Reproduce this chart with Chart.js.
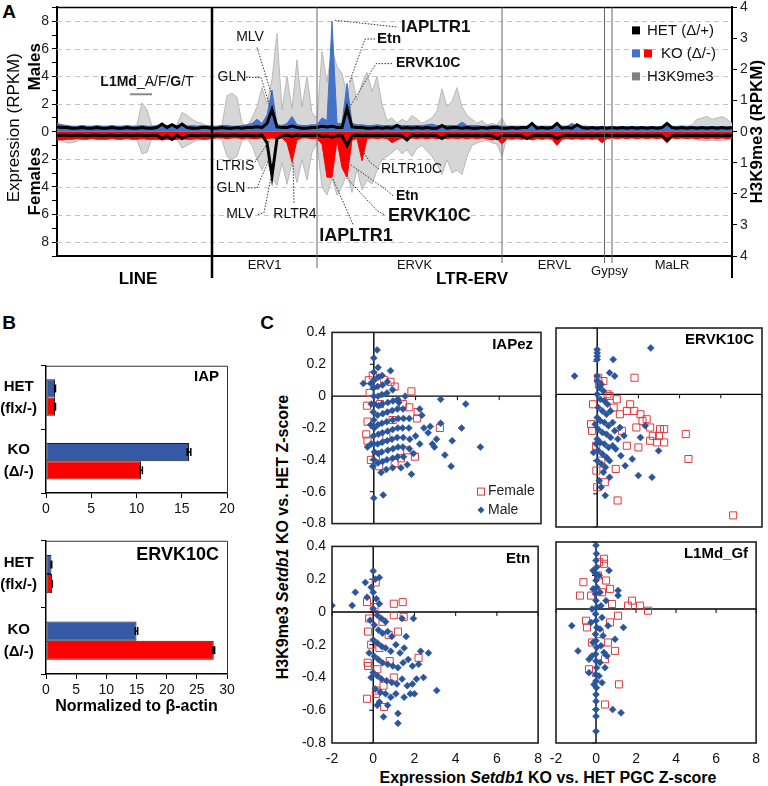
<!DOCTYPE html>
<html><head><meta charset="utf-8">
<script src="https://cdn.jsdelivr.net/npm/chart.js@4.4.1/dist/chart.umd.min.js"></script>
<style>
html,body{margin:0;padding:0;background:#fff;}
body{width:768px;height:786px;position:relative;overflow:hidden;}
canvas{position:absolute;}
.t{position:absolute;white-space:nowrap;color:#000;font-family:Arial,"Liberation Sans",sans-serif;font-weight:bold;transform:translate(-50%,-50%);}
.rot{transform:translate(-50%,-50%) rotate(-90deg);}
</style></head><body>
<div class="t" style="left:9px;top:12px;font-size:19px">A</div>
<div class="t" style="left:9px;top:323px;font-size:19px">B</div>
<div class="t" style="left:267px;top:323px;font-size:19px">C</div>
<div class="t rot" style="left:283px;top:537px;font-size:16px">H3K9me3 <i>Setdb1</i> KO vs. HET Z-score</div>
<div class="t" style="left:548px;top:778px;font-size:16px">Expression <i>Setdb1</i> KO vs. HET PGC Z-score</div>
<script>
// ================= DATA =================
// Panel A: element rank along the repeat classes
const elementIndex = [0,2,4,6,8,10,12,14,16,18,20,22,24,26,28,30,32,34,36,38,40,42,44,46,48,50,52,54,56,58,60,62,64,66,68,70,72,74,76,78,80,82,84,86,88,90,92,94,96,98,100,102,104,106,108,110,112,114,116,118,120,122,124,126,128,130,132,134,136,138,140,142,144,146,148,150,152,154,156,158,160,162,164,166,168,170,172,174,176,178,180,182,184,186,188,190,192,194,196,198,200,202,204,206,208,210,212,214,216,218,220,222,224,226,228,230,232,234,236,238,240,242,244,246,248,250,252,254,256,258,260,262,264,266,268,270];
// Males, KO expression (RPKM)
const koMale = [0.6,0.5,0.45,0.4,0.4,0.45,0.4,0.4,0.45,0.4,
0.4,0.45,0.4,0.4,0.45,0.4,0.4,0.45,0.4,0.4,
0.45,0.5,0.45,0.5,0.45,0.4,0.4,0.45,0.4,0.45,
0.45,0.4,0.4,0.45,0.45,0.4,0.4,0.45,0.5,0.6,
0.9,0.6,1.2,3.0,0.5,0.45,0.6,1.1,0.5,0.45,
0.45,0.5,0.5,1.0,0.8,8.0,0.6,0.6,3.5,0.6,
0.5,0.5,0.45,0.45,0.5,0.45,0.45,0.45,0.5,0.45,
0.45,0.45,0.45,0.45,0.5,0.55,0.45,0.45,0.45,0.45,
0.45,0.7,0.45,0.45,0.45,0.4,0.4,0.45,0.45,0.4,
0.4,0.4,0.4,0.4,0.4,0.6,0.4,0.4,0.4,0.4,
0.4,0.4,0.4,0.6,0.4,0.4,0.4,0.35,0.35,0.35,
0.35,0.35,0.35,0.35,0.35,0.35,0.35,0.35,0.35,0.35,
0.35,0.35,0.45,0.35,0.35,0.35,0.35,0.35,0.35,0.35,
0.35,0.35,0.35,0.35,0.35,0.35];
// Males, HET expression (RPKM)
const hetMale = [0.35,0.3,0.3,0.25,0.25,0.3,0.25,0.25,0.3,0.25,
0.25,0.3,0.25,0.25,0.3,0.25,0.25,0.3,0.25,0.25,
0.3,0.55,0.3,0.5,0.3,0.55,0.3,0.25,0.25,0.3,
0.3,0.25,0.25,0.3,0.25,0.25,0.3,0.25,0.3,0.3,
0.35,0.3,0.6,1.6,0.35,0.3,0.3,0.4,0.3,0.25,
0.25,0.3,0.3,0.4,0.35,0.4,0.3,0.3,1.7,0.35,
0.3,0.3,0.25,0.25,0.3,0.25,0.3,0.25,0.45,0.25,
0.3,0.25,0.3,0.25,0.3,0.25,0.25,0.45,0.25,0.3,
0.3,0.25,0.3,0.25,0.25,0.3,0.25,0.3,0.3,0.25,
0.25,0.3,0.25,0.3,0.3,0.6,0.25,0.3,0.25,0.3,
0.6,0.25,0.3,0.25,0.5,0.3,0.25,0.3,0.25,0.3,
0.25,0.3,0.25,0.3,0.25,0.3,0.25,0.3,0.25,0.3,
0.25,0.3,0.6,0.3,0.25,0.3,0.25,0.3,0.25,0.3,
0.25,0.3,0.25,0.3,0.25,0.3];
// Males, H3K9me3 (RPKM, right axis)
const h3Male = [0.27,0.22,0.18,0.13,0.11,0.11,0.13,0.11,0.13,0.11,
0.11,0.13,0.11,0.13,0.11,0.13,0.22,0.93,0.71,0.18,
0.13,0.11,0.13,0.11,0.22,0.62,0.53,0.4,0.31,0.27,
0.18,0.13,0.13,0.22,1.16,1.24,1.11,0.27,0.18,0.44,
0.8,1.42,0.9,1.69,3.16,0.7,1.78,0.75,2.31,0.8,
1.78,0.6,0.44,2.58,1.6,2.67,2.1,1.87,1.2,1.78,
1.0,1.56,1.91,1.3,1.78,0.89,0.36,0.44,0.27,0.4,
0.31,0.53,0.4,0.27,0.36,0.44,0.67,1.38,0.8,0.98,
1.42,0.8,0.53,0.4,0.27,0.36,0.22,0.27,0.22,0.44,
0.13,0.13,0.16,0.13,0.13,0.16,0.13,0.13,0.16,0.13,
0.13,0.16,0.13,0.13,0.16,0.13,0.13,0.16,0.13,0.13,
0.13,0.13,0.11,0.13,0.11,0.13,0.11,0.13,0.11,0.13,
0.13,0.13,0.18,0.18,0.18,0.2,0.18,0.22,0.4,0.44,
0.49,0.4,0.44,0.49,0.4,0.27];
// Females (plotted downward)
const koFemale = [-0.6,-0.6,-0.55,-0.55,-0.5,-0.55,-0.55,-0.5,-0.55,-0.55,
-0.55,-0.5,-0.55,-0.55,-0.5,-0.55,-0.55,-0.5,-0.55,-0.55,
-0.55,-0.6,-0.55,-0.6,-0.55,-0.5,-0.55,-0.55,-0.5,-0.55,
-0.55,-0.5,-0.45,-0.45,-0.5,-0.45,-0.45,-0.5,-0.45,-0.5,
-0.5,-0.45,-0.5,-0.45,-0.5,-0.45,-0.8,-2.2,-0.6,-0.45,
-0.45,-0.5,-0.5,-0.9,-3.3,-3.3,-0.6,-2.6,-3.3,-0.6,
-0.5,-2.1,-0.5,-0.45,-0.5,-0.45,-0.5,-0.8,-0.6,-0.45,
-0.5,-0.45,-0.5,-0.45,-0.5,-0.45,-0.5,-0.45,-0.5,-0.45,
-0.5,-0.45,-0.5,-0.45,-0.5,-0.45,-0.5,-0.6,-0.5,-0.9,
-0.5,-0.55,-0.5,-0.55,-0.5,-0.6,-0.5,-0.55,-0.5,-0.55,
-1.0,-0.55,-0.5,-0.55,-0.5,-0.55,-0.5,-0.55,-0.5,-0.8,
-0.5,-0.45,-0.5,-0.45,-0.5,-0.45,-0.5,-0.45,-0.5,-0.45,
-0.5,-0.45,-0.8,-0.45,-0.5,-0.45,-0.5,-0.45,-0.5,-0.45,
-0.5,-0.45,-0.5,-0.45,-0.5,-0.45];
const hetFemale = [-0.3,-0.25,-0.25,-0.3,-0.25,-0.25,-0.3,-0.25,-0.25,-0.3,
-0.25,-0.25,-0.3,-0.25,-0.25,-0.3,-0.25,-0.25,-0.3,-0.25,
-0.25,-0.5,-0.3,-0.55,-0.25,-0.5,-0.3,-0.25,-0.3,-0.25,
-0.25,-0.3,-0.25,-0.25,-0.3,-0.25,-0.25,-0.3,-0.25,-0.3,
-0.3,-0.25,-0.8,-3.2,-0.5,-0.3,-0.25,-0.35,-0.25,-0.3,
-0.25,-0.3,-0.25,-0.35,-0.3,-0.4,-0.3,-0.3,-1.0,-0.3,
-0.25,-0.3,-0.25,-0.3,-0.25,-0.3,-0.25,-0.3,-0.25,-0.3,
-0.6,-0.25,-0.3,-0.25,-0.3,-0.25,-0.3,-0.5,-0.25,-0.3,
-0.25,-0.3,-0.25,-0.3,-0.25,-0.3,-0.25,-0.3,-0.5,-0.3,
-0.25,-0.3,-0.25,-0.3,-0.5,-0.3,-0.25,-0.3,-0.25,-0.3,
-0.5,-0.3,-0.25,-0.3,-0.25,-0.3,-0.25,-0.3,-0.25,-0.3,
-0.25,-0.3,-0.25,-0.3,-0.25,-0.3,-0.25,-0.3,-0.25,-0.3,
-0.25,-0.3,-0.6,-0.3,-0.25,-0.3,-0.25,-0.3,-0.25,-0.3,
-0.25,-0.3,-0.25,-0.3,-0.25,-0.3];
const h3Female = [-0.22,-0.27,-0.36,-0.36,-0.31,-0.18,-0.18,-0.2,-0.18,-0.18,
-0.18,-0.2,-0.18,-0.18,-0.2,-0.18,-0.27,-0.71,-0.67,-0.22,
-0.16,-0.18,-0.16,-0.18,-0.22,-0.53,-0.44,-0.36,-0.27,-0.22,
-0.18,-0.16,-0.18,-0.27,-0.8,-0.89,-0.8,-0.27,-0.22,-0.44,
-0.89,-1.24,-0.9,-1.47,-1.73,-1.0,-1.69,-1.0,-1.64,-0.9,
-1.56,-0.67,-0.36,-1.78,-2.04,-1.5,-2.04,-1.78,-1.3,-1.96,
-1.2,-1.87,-1.56,-1.69,-1.24,-0.89,-0.8,-0.67,-0.53,-0.71,
-0.58,-0.8,-0.53,-0.44,-0.62,-0.8,-1.07,-1.38,-0.9,-1.33,
-1.24,-1.38,-0.8,-0.44,-0.36,-0.31,-0.27,-0.36,-0.4,-0.8,
-0.16,-0.16,-0.18,-0.16,-0.16,-0.18,-0.16,-0.16,-0.18,-0.16,
-0.16,-0.18,-0.16,-0.16,-0.18,-0.16,-0.16,-0.18,-0.16,-0.16,
-0.16,-0.16,-0.14,-0.16,-0.14,-0.16,-0.14,-0.16,-0.14,-0.16,
-0.16,-0.16,-0.18,-0.18,-0.18,-0.2,-0.18,-0.2,-0.27,-0.29,
-0.29,-0.27,-0.29,-0.29,-0.27,-0.2];
const familyBounds = [62,104,178,219,222];
const subfamilyNames = ['ERV1','ERVK','ERVL','Gypsy','MaLR'];
const subfamilyCenters = [83,143,199,221,246];
const classNames = ['LINE','LTR-ERV'];
const classCenters = [32.4,166];
const legendALabels = ['HET (Δ/+)','KO (Δ/-)','H3K9me3'];
const leftGridValues = [-8,-6,-4,-2,2,4,6,8];
const annotationsA = [
 {text:'MLV', x:77.2, y:6.86, font:'14px', align:'center', line:[[80,6.1],[86,2.6]]},
 {text:'GLN', x:70, y:3.93, font:'14px', align:'center', line:[[75.6,3.93],[81.6,3.93],[85.2,1.8]]},
 {text:'IAPLTR1', x:137.6, y:7.57, font:'bold 17px', align:'left', line:[[111.2,8.07],[136.4,7.57]]},
 {text:'Etn', x:128, y:6.71, font:'bold 15px', align:'left', line:[[127.2,6.71],[123.2,6.71],[116.8,3.5]]},
 {text:'ERVK10C', x:135.6, y:4.93, font:'bold 14px', align:'left', line:[[134,4.93],[127.6,4.93],[116.8,1.71]]},
 {text:'LTRIS', x:71.2, y:-2.5, font:'14px', align:'center', line:[[79.2,-2.2],[85.2,-0.6]]},
 {text:'GLN', x:69.6, y:-4.07, font:'14px', align:'center', line:[[76.4,-4.07],[80,-4.07],[84.8,-2.0]]},
 {text:'MLV', x:73.2, y:-6.0, font:'14px', align:'center', line:[[80.4,-6.0],[82.8,-5.86],[85.6,-3.3]]},
 {text:'RLTR4', x:95.2, y:-6.0, font:'14px', align:'center', line:[[94.8,-5.14],[94.4,-2.2]]},
 {text:'IAPLTR1', x:119.6, y:-7.57, font:'bold 18px', align:'center', line:[[118.4,-6.71],[110.4,-3.43]]},
 {text:'ERVK10C', x:132.4, y:-6.07, font:'bold 18px', align:'left', line:[[130.8,-6.0],[128,-5.71],[115.6,-3.3]]},
 {text:'Etn', x:135.6, y:-4.64, font:'bold 14px', align:'left', line:[[134.4,-4.64],[131.2,-4.14],[117.2,-2.36]]},
 {text:'RLTR10C', x:129.6, y:-2.71, font:'14px', align:'left', line:[[128.8,-2.71],[125.2,-2.21],[122,-1.3]]}
];
const l1mdParts = [['L1Md',true],['_A/F/',false],['G',true],['/T',false]];
const l1mdPos = {x:36, y:3.57, barFrom:29.2, barTo:38, barY:2.71};

// Panel B: qPCR
const qpcrCategories = [['HET','(flx/-)'],['KO','(Δ/-)']];
const iapMale = [1.0,15.8], iapFemale = [1.0,10.5];
const iapMaleErr = [0.05,0.2], iapFemaleErr = [0.05,0.15];
const ervkMale = [0.9,15.0], ervkFemale = [1.0,27.8];
const ervkMaleErr = [0.05,0.2], ervkFemaleErr = [0.05,0.15];

// Panel C: z-scores [expression, H3K9me3]
const xTickValues = [-2,0,2,4,6,8];
const yTickValues = [-0.8,-0.6,-0.4,-0.2,0,0.2,0.4];
const iapezMale = [[0.16,0.29],[0.0,0.24],[0.8,0.16],[-0.5,0.08],[3.2,-0.02],[4.4,-0.05],[4.2,-0.2],[3.2,-0.17],[3.75,-0.28],[5.1,-0.32],[3.4,-0.37],[3.7,-0.44],[2.9,-0.32],[0.0,-0.64],[0.45,-0.62],[1.8,-0.49],[0.35,-0.48],[2.3,-0.12],[2.2,-0.08],[2.7,-0.19],[2.4,-0.2],[2.6,-0.23],[1.5,0.0],[1.2,-0.04],[3.0,-0.27],[2.8,-0.3],[2.0,-0.25],[2.2,-0.3],[1.9,-0.36],[1.6,-0.43],[1.3,-0.45],[0.9,-0.45],[0.6,-0.46],
[0.0,0.15],[0.02,0.1],[-0.02,0.05],[0.0,0.0],[0.03,-0.05],[-0.03,-0.1],[0.0,-0.15],[0.02,-0.2],[-0.02,-0.25],[0.0,-0.3],[0.03,-0.35],[0.0,-0.4],[-0.05,-0.44],
[0.2,0.18],[0.22,0.12],[0.18,0.06],[0.2,0.0],[0.23,-0.06],[0.18,-0.12],[0.2,-0.18],[0.22,-0.24],[0.19,-0.3],[0.21,-0.36],[0.2,-0.42],
[0.4,0.13],[0.42,0.07],[0.38,0.01],[0.4,-0.05],[0.43,-0.11],[0.39,-0.17],[0.41,-0.23],[0.4,-0.29],[0.38,-0.35],[0.42,-0.41],
[0.65,0.09],[0.63,0.02],[0.67,-0.04],[0.65,-0.1],[0.62,-0.16],[0.66,-0.22],[0.64,-0.28],[0.67,-0.34],[0.63,-0.4],
[0.9,0.04],[0.92,-0.03],[0.88,-0.09],[0.91,-0.15],[0.9,-0.21],[0.87,-0.27],[0.92,-0.33],[0.9,-0.39],
[1.15,-0.02],[1.13,-0.08],[1.17,-0.14],[1.15,-0.2],[1.12,-0.26],[1.16,-0.32],[1.14,-0.38],
[1.4,-0.08],[1.42,-0.14],[1.38,-0.2],[1.41,-0.26],[1.39,-0.32],[1.42,-0.38],
[1.7,-0.14],[1.68,-0.2],[1.72,-0.27],[1.7,-0.33],
[-0.15,0.08],[-0.12,-0.05],[-0.15,-0.18],[-0.13,-0.3],[-0.3,-0.32]];
const iapezFemale = [[-0.24,0.1],[0.8,0.09],[1.8,0.03],[1.0,0.06],[-0.05,0.13],[-0.33,-0.06],[2.1,-0.1],[1.7,-0.07],[3.16,-0.2],[-0.36,-0.24],[-0.3,-0.16],[-0.14,-0.4],[0.26,-0.44],[1.0,-0.42],[1.3,-0.39],[1.97,-0.38],[1.6,-0.34],[2.07,-0.14],[0.5,0.1],[0.3,-0.05],[0.6,-0.25],[-0.3,-0.28],[0.9,-0.15],[1.4,-0.05],[-0.2,0.02],[0.1,-0.38]];
const ervk10cMale = [[2.6,0.28],[-1.1,0.11],[0.78,0.21],[0.6,0.13],[0.85,0.11],[0.0,0.27],[0.0,0.25],[0.0,0.23],[0.0,0.21],[0.0,0.11],[2.33,-0.19],[2.98,-0.34],[1.36,-0.43],[2.0,-0.49],[2.66,-0.5],[0.39,-0.61],[0.19,-0.56],[0.6,-0.5],[1.7,-0.39],[1.15,-0.37],[-0.18,-0.35],[0.3,-0.47],[0.1,-0.52],[1.0,-0.27],[1.3,-0.25],[2.1,-0.26],
[0.0,0.08],[0.1,0.04],[0.2,0.06],[0.3,0.02],[0.0,0.0],[0.15,-0.03],[0.35,-0.04],[0.5,-0.06],[0.05,-0.08],[0.25,-0.1],[0.45,-0.12],[0.65,-0.1],[0.0,-0.14],[0.15,-0.16],[0.35,-0.17],[0.55,-0.19],[0.75,-0.17],[0.05,-0.21],[0.25,-0.23],[0.45,-0.24],[0.65,-0.26],[0.85,-0.22],[0.0,-0.27],[0.15,-0.29],[0.35,-0.3],[0.55,-0.32],[0.75,-0.31],[0.05,-0.34],[0.25,-0.36],[0.45,-0.38],[0.0,-0.4],[0.2,-0.42],[0.4,-0.44],[-0.1,-0.18],[-0.05,-0.3],[0.9,-0.33],[1.1,-0.2],[0.6,-0.4]];
const ervk10cFemale = [[1.81,0.1],[0.08,0.06],[0.5,0.0],[0.95,-0.03],[-0.2,-0.06],[1.44,-0.1],[1.8,-0.1],[2.1,-0.12],[-0.3,-0.18],[-0.25,-0.22],[2.57,-0.2],[3.05,-0.21],[3.25,-0.21],[4.3,-0.24],[2.9,-0.29],[3.25,-0.29],[2.57,-0.28],[1.44,-0.31],[2.0,-0.32],[4.43,-0.39],[-0.04,-0.46],[0.0,-0.56],[0.37,-0.53],[0.9,-0.45],[0.99,-0.64],[6.6,-0.73],[-0.05,-0.31],[0.6,-0.01],[1.1,-0.12],[2.2,-0.16],[1.6,-0.06],[2.4,-0.15],[1.9,-0.2],[2.7,-0.25],[0.05,0.1],[0.3,0.08],[1.2,-0.22],[0.8,-0.08],[3.0,-0.25],[0.2,-0.4]];
const etnMale = [[-2.0,0.04],[-1.02,0.04],[-0.38,0.18],[-0.87,0.12],[0.0,0.25],[0.3,0.21],[-0.3,0.09],[1.4,-0.04],[1.95,-0.04],[2.68,-0.25],[2.44,-0.4],[3.08,-0.48],[2.0,-0.5],[1.2,-0.68],[0.5,-0.64],[0.2,-0.57],[1.2,-0.62],[0.1,0.2],[-0.1,0.15],
[0.0,0.12],[0.15,0.08],[0.3,0.05],[0.0,0.02],[0.2,-0.02],[0.4,-0.04],[0.6,-0.06],[0.05,-0.08],[0.25,-0.11],[0.45,-0.13],[0.7,-0.12],[0.9,-0.15],[0.0,-0.17],[0.2,-0.19],[0.4,-0.21],[0.6,-0.22],[0.85,-0.24],[1.1,-0.2],[1.3,-0.25],[1.5,-0.22],[0.05,-0.27],[0.25,-0.29],[0.45,-0.31],[0.7,-0.32],[0.95,-0.33],[1.2,-0.34],[1.45,-0.31],[1.7,-0.29],[1.9,-0.33],[2.2,-0.32],[0.0,-0.37],[0.2,-0.39],[0.4,-0.41],[0.65,-0.42],[0.9,-0.43],[1.15,-0.44],[1.4,-0.41],[1.65,-0.45],[1.9,-0.44],[2.1,-0.41],[0.1,-0.47],[0.35,-0.49],[0.6,-0.5],[0.85,-0.52],[1.1,-0.5],[1.5,-0.52],[1.8,-0.5],[0.3,-0.55],[0.7,-0.57],[-0.15,-0.05],[-0.2,-0.25],[-0.1,-0.4],[2.3,-0.24],[1.6,-0.15]];
const etnFemale = [[0.12,0.18],[-0.3,0.06],[1.0,0.05],[1.43,0.06],[1.48,-0.03],[1.0,-0.02],[-0.25,-0.12],[-0.2,-0.04],[2.2,-0.28],[-0.27,-0.31],[-0.3,-0.53],[0.53,-0.58],[0.13,-0.5],[1.0,-0.4],[0.3,-0.22],[0.75,-0.14],[0.45,-0.06],[0.06,0.03],[-0.25,-0.33],[0.2,-0.35],[0.8,-0.3],[0.5,-0.45],[0.15,-0.48],[1.2,-0.12],[-0.1,-0.2]];
const l1mdGfMale = [[0.0,0.38],[0.02,0.33],[0.0,0.29],[0.03,0.25],[-0.02,0.21],[0.0,0.17],[0.04,0.13],[-0.03,0.09],[0.0,0.05],[0.03,0.01],[-0.02,-0.03],[0.0,-0.07],[0.04,-0.11],[-0.03,-0.15],[0.0,-0.19],[0.03,-0.23],[-0.02,-0.27],[0.0,-0.31],[0.03,-0.35],[-0.02,-0.39],[0.0,-0.43],[0.02,-0.47],[0.0,-0.51],[0.0,-0.55],[0.0,-0.6],[0.0,-0.64],[0.0,-0.73],
[0.15,0.2],[-0.15,0.12],[0.2,0.1],[0.25,0.02],[-0.2,0.0],[0.3,-0.05],[-0.25,-0.08],[0.2,-0.12],[0.35,-0.16],[-0.15,-0.2],[0.25,-0.22],[0.4,-0.26],[-0.2,-0.28],[0.2,-0.32],[0.45,-0.35],[0.15,-0.4],[0.3,-0.44],[-0.1,-0.45],
[0.65,0.23],[-0.15,0.23],[-1.21,-0.1],[1.37,-0.11],[-0.9,-0.25],[0.95,-0.18],[-0.35,-0.3],[-0.35,-0.38],[0.83,-0.6],[1.25,-0.62],[1.1,0.08],[1.1,0.11],[0.6,-0.1],[0.5,0.05],[0.55,-0.28]];
const l1mdGfFemale = [[-0.63,0.16],[-0.8,0.08],[0.4,0.3],[0.4,0.27],[1.8,0.05],[1.6,0.02],[2.2,0.02],[2.6,-0.01],[1.1,-0.04],[-0.5,-0.07],[-0.45,-0.11],[0.7,-0.08],[0.95,-0.25],[0.6,-0.2],[-0.35,-0.36],[1.15,-0.45],[0.45,-0.57],[-0.25,0.08],[0.5,0.17],[0.1,0.2],[0.3,0.1],[0.8,0.03],[0.2,-0.15],[0.45,-0.3],[-0.2,-0.2],[0.15,0.28],[0.7,0.12]];

// ================= RENDERING =================
const FONT = 'Arial, "Liberation Sans", sans-serif';
Chart.defaults.font.family = FONT;
Chart.defaults.color = '#111';
const BLUE_A = '#4472C4', RED = '#FF0000', BLUE_C = '#2B559A';

function mk(l,t,w,h){
  const c=document.createElement('canvas');
  c.width=w;c.height=h;c.style.left=l+'px';c.style.top=t+'px';c.style.width=w+'px';c.style.height=h+'px';
  document.body.appendChild(c);return c;
}
const toXY = ys => elementIndex.map((x,i)=>({x:x,y:ys[i]}));
const toPts = arr => arr.map(p=>({x:p[0],y:p[1]}));

// ---------- Panel A ----------
const panelAPlugin = {
  id:'panelA',
  beforeDatasetsDraw(chart){
    const ctx=chart.ctx, ys=chart.scales.y, ca=chart.chartArea;
    ctx.save(); ctx.strokeStyle='#C4C4C4'; ctx.lineWidth=1; ctx.setLineDash([5,4]);
    leftGridValues.forEach(v=>{const p=Math.round(ys.getPixelForValue(v))+0.5;ctx.beginPath();ctx.moveTo(ca.left,p);ctx.lineTo(ca.right,p);ctx.stroke();});
    ctx.restore();
  },
  afterDraw(chart){
    const ctx=chart.ctx, xs=chart.scales.x, ys=chart.scales.y, ca=chart.chartArea;
    const px=v=>xs.getPixelForValue(v), py=v=>ys.getPixelForValue(v);
    ctx.save();
    ctx.strokeStyle='#000'; ctx.lineWidth=1.5;
    ctx.beginPath(); ctx.moveTo(ca.left,ca.top); ctx.lineTo(ca.right,ca.top); ctx.stroke();
    familyBounds.forEach((b,i)=>{
      const x=px(b);
      ctx.beginPath();
      ctx.lineWidth = i===0?2.5:1; ctx.strokeStyle = i===0?'#000':'#666';
      ctx.moveTo(x,ca.top); ctx.lineTo(x, ca.bottom + (i===0?22:(i===1?12:7)));
      ctx.stroke();
    });
    ctx.lineWidth=2; ctx.strokeStyle='#000';
    ctx.beginPath(); ctx.moveTo(ca.right,ca.bottom); ctx.lineTo(ca.right,ca.bottom+22); ctx.stroke();
    ctx.fillStyle='#111'; ctx.textAlign='center'; ctx.textBaseline='middle';
    ctx.font='13px '+FONT;
    subfamilyNames.forEach((n,i)=>{ctx.fillText(n, px(subfamilyCenters[i]), ca.bottom + (n==='Gypsy'?15:9));});
    ctx.font='bold 17px '+FONT; ctx.fillStyle='#000';
    classNames.forEach((n,i)=>{ctx.fillText(n, px(classCenters[i]), ca.bottom+23);});
    annotationsA.forEach(a=>{
      ctx.save(); ctx.strokeStyle='#333'; ctx.lineWidth=1; ctx.setLineDash([1.5,1.5]);
      ctx.beginPath();
      a.line.forEach((p,j)=>{ if(j===0) ctx.moveTo(px(p[0]),py(p[1])); else ctx.lineTo(px(p[0]),py(p[1])); });
      ctx.stroke(); ctx.restore();
      ctx.font=a.font+' '+FONT; ctx.fillStyle='#111'; ctx.textAlign=a.align; ctx.textBaseline='middle';
      ctx.fillText(a.text, px(a.x), py(a.y));
    });
    let tw=0;
    l1mdParts.forEach(p=>{ctx.font=(p[1]?'bold ':'')+'14px '+FONT; tw+=ctx.measureText(p[0]).width;});
    let sx=px(l1mdPos.x)-tw/2; ctx.textAlign='left';
    l1mdParts.forEach(p=>{ctx.font=(p[1]?'bold ':'')+'14px '+FONT; ctx.fillText(p[0],sx,py(l1mdPos.y)); sx+=ctx.measureText(p[0]).width;});
    ctx.strokeStyle='#888'; ctx.lineWidth=2;
    ctx.beginPath(); ctx.moveTo(px(l1mdPos.barFrom),py(l1mdPos.barY)); ctx.lineTo(px(l1mdPos.barTo),py(l1mdPos.barY)); ctx.stroke();
    const lx=ca.right-100;
    const legCols=[['#000'],[BLUE_A,RED],['#808080']];
    legendALabels.forEach((lab,i)=>{
      const yy=ca.top+23+i*23;
      legCols[i].forEach((c,j)=>{ctx.fillStyle=c; ctx.fillRect(lx+j*12, yy-4, 8, 8);});
      ctx.fillStyle='#111'; ctx.font='15px '+FONT; ctx.textAlign='left'; ctx.textBaseline='middle';
      ctx.fillText(lab, legCols[i].length>1?lx+29:lx+15, yy);
    });
    const z=py(0);
    const rot=(txt,x,y,font)=>{ctx.save();ctx.translate(x,y);ctx.rotate(-Math.PI/2);ctx.font=font;ctx.fillStyle='#000';ctx.textAlign='center';ctx.textBaseline='middle';ctx.fillText(txt,0,0);ctx.restore();};
    rot('Expression (RPKM)',14,z-4,'17px '+FONT);
    rot('Males',35,py(4.7),'bold 17px '+FONT);
    rot('Females',35,py(-3.6),'bold 17px '+FONT);
    rot('H3K9me3 (RPKM)',ca.right+25,z,'bold 17px '+FONT);
    ctx.restore();
  }
};

const cA = mk(0,-4,768,304);
new Chart(cA,{
  type:'line',
  data:{datasets:[
    {label:'HET male',data:toXY(hetMale),yAxisID:'y',borderColor:'#000',borderWidth:3,fill:false,order:0},
    {label:'HET female',data:toXY(hetFemale),yAxisID:'y',borderColor:'#000',borderWidth:3,fill:false,order:0},
    {label:'KO male',data:toXY(koMale),yAxisID:'y',borderColor:BLUE_A,backgroundColor:BLUE_A,borderWidth:1,fill:'origin',order:1},
    {label:'KO female',data:toXY(koFemale),yAxisID:'y',borderColor:RED,backgroundColor:RED,borderWidth:1,fill:'origin',order:1},
    {label:'H3K9me3 male',data:toXY(h3Male),yAxisID:'y1',borderColor:'#ADADAD',backgroundColor:'#D6D6D6',borderWidth:0.8,fill:'origin',order:2},
    {label:'H3K9me3 female',data:toXY(h3Female),yAxisID:'y1',borderColor:'#ADADAD',backgroundColor:'#D6D6D6',borderWidth:0.8,fill:'origin',order:2}
  ]},
  options:{
    responsive:false, animation:false, devicePixelRatio:1,
    layout:{padding:{top:10,left:0,right:0,bottom:0}},
    plugins:{legend:{display:false},tooltip:{enabled:false}},
    elements:{line:{tension:0},point:{radius:0}},
    scales:{
      x:{type:'linear',min:0,max:270,ticks:{display:false},grid:{display:false,drawTicks:false},border:{display:true,color:'#000',width:2},afterFit:s=>{s.height=44;}},
      y:{position:'left',min:-9,max:9,ticks:{stepSize:1,autoSkip:false,font:{size:14},color:'#222',padding:3,callback:v=>(v%2===0&&Math.abs(v)<9)?String(Math.abs(v)):''},grid:{drawOnChartArea:false,tickLength:5,tickColor:'#000'},border:{color:'#000',width:2},afterFit:s=>{s.width=57;}},
      y1:{position:'right',min:-4,max:4,ticks:{stepSize:1,autoSkip:false,font:{size:14},color:'#222',padding:3,callback:v=>String(Math.abs(v))},grid:{drawOnChartArea:false,tickLength:5,tickColor:'#000'},border:{color:'#000',width:2},afterFit:s=>{s.width=36;}}
    }
  },
  plugins:[panelAPlugin]
});

// ---------- Panel B ----------
const qpcrDeco = {
  id:'qpcrDeco',
  afterDatasetsDraw(chart,args,opts){
    const ctx=chart.ctx, xs=chart.scales.x;
    ctx.save(); ctx.strokeStyle='#000'; ctx.lineWidth=1.5;
    chart.data.datasets.forEach((ds,di)=>{
      const meta=chart.getDatasetMeta(di);
      meta.data.forEach((bar,i)=>{
        const v=ds.data[i], e=opts.errs[di][i];
        const x1=xs.getPixelForValue(v-e), x2=xs.getPixelForValue(v+e), y=bar.y;
        ctx.beginPath(); ctx.moveTo(x1,y); ctx.lineTo(x2,y);
        ctx.moveTo(x1,y-4); ctx.lineTo(x1,y+4); ctx.moveTo(x2,y-4); ctx.lineTo(x2,y+4); ctx.stroke();
      });
    });
    ctx.restore();
  },
  afterDraw(chart,args,opts){
    const ctx=chart.ctx, ca=chart.chartArea;
    ctx.save(); ctx.strokeStyle='#333'; ctx.lineWidth=1;
    ctx.beginPath(); ctx.moveTo(ca.left,ca.top+0.5); ctx.lineTo(ca.right+0.5,ca.top+0.5); ctx.lineTo(ca.right+0.5,ca.bottom); ctx.stroke();
    ctx.font=opts.nameFont+' '+FONT; ctx.fillStyle='#000'; ctx.textAlign='right'; ctx.textBaseline='middle';
    ctx.fillText(opts.name, ca.right-8, ca.top+opts.nameDy);
    ctx.restore();
  }
};
function qpcrChart(l,t,w,h,padTop,xH,xmax,male,female,maleErr,femaleErr,name,nameFont,nameDy,withTitle){
  const c=mk(l,t,w,h);
  return new Chart(c,{type:'bar',
    data:{labels:qpcrCategories,datasets:[
      {label:'Male',data:male,backgroundColor:'#3559A5',borderColor:'#1c1c1c',borderWidth:1,borderSkipped:false,categoryPercentage:0.575,barPercentage:1},
      {label:'Female',data:female,backgroundColor:RED,borderColor:'#1c1c1c',borderWidth:1,borderSkipped:false,categoryPercentage:0.575,barPercentage:1}
    ]},
    options:{indexAxis:'y',responsive:false,animation:false,devicePixelRatio:1,
      layout:{padding:{top:padTop,right:w-227,left:0,bottom:0}},
      plugins:{legend:{display:false},tooltip:{enabled:false},qpcrDeco:{name:name,nameFont:nameFont,nameDy:nameDy,errs:[maleErr,femaleErr]}},
      scales:{
        x:{min:0,max:xmax,ticks:{stepSize:5,font:{size:14},color:'#111',padding:3},grid:{drawOnChartArea:false,tickLength:5,tickColor:'#000'},border:{color:'#000',width:1.5},
           title:{display:withTitle,text:'Normalized to β-actin',font:{size:16,weight:'bold'},color:'#000',padding:{top:4,bottom:4}},afterFit:s=>{s.height=xH;}},
        y:{ticks:{font:{size:15,weight:'bold',lineHeight:1.45},color:'#000',crossAlign:'center',padding:4},grid:{drawOnChartArea:false,tickLength:5,tickColor:'#000'},border:{color:'#000',width:1.5},afterFit:s=>{s.width=46;}}
      }},
    plugins:[qpcrDeco]});
}
qpcrChart(0,340,240,180,9,27,20,iapMale,iapFemale,iapMaleErr,iapFemaleErr,'IAP','bold 15px',11,false);
qpcrChart(0,515,240,205,11,46,30,ervkMale,ervkFemale,ervkMaleErr,ervkFemaleErr,'ERVK10C','bold 18px',14,true);

// ---------- Panel C ----------
const scatterDeco = {
  id:'scatterDeco',
  beforeDatasetsDraw(chart){
    const ctx=chart.ctx, ca=chart.chartArea, x=chart.scales.x, y=chart.scales.y;
    const x0=x.getPixelForValue(0), y0=y.getPixelForValue(0);
    ctx.save(); ctx.strokeStyle='#000'; ctx.lineWidth=1.4;
    ctx.beginPath(); ctx.moveTo(x0,ca.top); ctx.lineTo(x0,ca.bottom); ctx.moveTo(ca.left,y0); ctx.lineTo(ca.right,y0); ctx.stroke();
    ctx.lineWidth=1; ctx.beginPath();
    yTickValues.forEach(v=>{const p=y.getPixelForValue(v); ctx.moveTo(x0-4,p); ctx.lineTo(x0,p);});
    xTickValues.forEach(v=>{const p=x.getPixelForValue(v); ctx.moveTo(p,y0); ctx.lineTo(p,y0+4);});
    ctx.stroke(); ctx.restore();
  },
  afterDraw(chart,args,opts){
    const ctx=chart.ctx, ca=chart.chartArea;
    ctx.save(); ctx.strokeStyle='#222'; ctx.lineWidth=1.6;
    ctx.strokeRect(ca.left,ca.top,ca.right-ca.left,ca.bottom-ca.top);
    ctx.font='bold 15px '+FONT; ctx.fillStyle='#000'; ctx.textAlign='right'; ctx.textBaseline='middle';
    ctx.fillText(opts.name, ca.right-8, ca.top+12);
    if(opts.legend){
      const lx=ca.right-60;
      ctx.strokeStyle='#E0393E'; ctx.lineWidth=1; ctx.strokeRect(lx-3.5,ca.bottom-35.5,7,7);
      ctx.fillStyle=BLUE_C; ctx.beginPath(); ctx.moveTo(lx,ca.bottom-17); ctx.lineTo(lx+3.5,ca.bottom-13.5); ctx.lineTo(lx,ca.bottom-10); ctx.lineTo(lx-3.5,ca.bottom-13.5); ctx.closePath(); ctx.fill();
      ctx.fillStyle='#222'; ctx.font='14px '+FONT; ctx.textAlign='left';
      ctx.fillText('Female', lx+7, ca.bottom-32);
      ctx.fillText('Male', lx+7, ca.bottom-13);
    }
    ctx.restore();
  }
};
function scatterPanel(l,t,w,h,pad,showX,showY,male,female,name,legend){
  const c=mk(l,t,w,h);
  const xScale={type:'linear',min:-2,max:8,display:showX,ticks:{stepSize:2,font:{size:14},color:'#111',padding:8},grid:{display:false,drawTicks:false},border:{display:false}};
  if(showX) xScale.afterFit=s=>{s.height=43;};
  const yScale={type:'linear',min:-0.8,max:0.4,display:showY,ticks:{stepSize:0.2,font:{size:14},color:'#111',padding:6,callback:v=>String(Math.round(v*10)/10)},grid:{display:false,drawTicks:false},border:{display:false}};
  if(showY) yScale.afterFit=s=>{s.width=42;};
  return new Chart(c,{type:'scatter',
    data:{datasets:[
      {label:'Male',data:toPts(male),pointStyle:'rectRot',pointRadius:3.5,backgroundColor:BLUE_C,borderColor:BLUE_C,borderWidth:0.5},
      {label:'Female',data:toPts(female),pointStyle:'rect',pointRadius:5,backgroundColor:'rgba(0,0,0,0)',borderColor:'#E0393E',borderWidth:1}
    ]},
    options:{responsive:false,animation:false,devicePixelRatio:1,
      layout:{padding:pad},
      plugins:{legend:{display:false},tooltip:{enabled:false},scatterDeco:{name:name,legend:legend}},
      scales:{x:xScale,y:yScale}},
    plugins:[scatterDeco]});
}
scatterPanel(290,318,260,220,{top:10,right:9,bottom:11,left:0},false,true,iapezMale,iapezFemale,'IAPez',true);
scatterPanel(546,318,222,220,{top:10,right:6,bottom:11,left:10},false,false,ervk10cMale,ervk10cFemale,'ERVK10C',false);
scatterPanel(290,532,260,254,{top:10,right:9,bottom:0,left:0},true,true,etnMale,etnFemale,'Etn',false);
scatterPanel(536,532,232,254,{top:10,right:6,bottom:0,left:20},true,false,l1mdGfMale,l1mdGfFemale,'L1Md_Gf',false);
</script>
</body></html>
